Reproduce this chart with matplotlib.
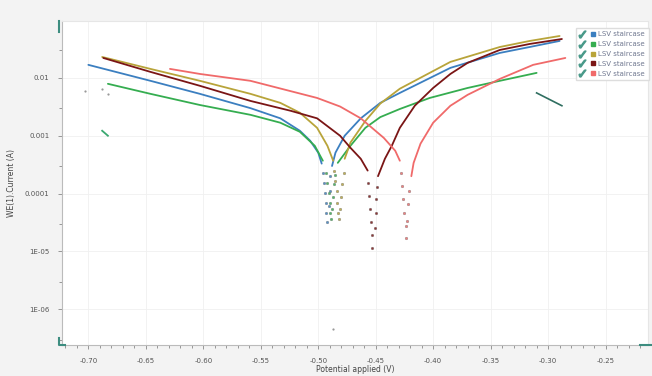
import matplotlib.pyplot as plt
from matplotlib.lines import Line2D
from matplotlib.legend_handler import HandlerTuple
from matplotlib.ticker import LogLocator, FixedLocator, MultipleLocator, NullFormatter

# LSV staircase runs: left branch, dots around Ecorr, right branch
blue_lx = [-0.700, -0.646, -0.603, -0.559, -0.533, -0.516, -0.507, -0.500, -0.497]
blue_ly = [0.0168, 0.0089, 0.0053, 0.0030, 0.0020, 0.00122, 0.00082, 0.00051, 0.00033]
blue_dx = [-0.496, -0.495, -0.494, -0.493, -0.493, -0.492, -0.491, -0.490, -0.490]
blue_dy = [0.00023, 0.000155, 0.000104, 7.0e-5, 4.7e-5, 3.2e-5, 6.2e-5, 0.000113, 0.00020]
blue_rx = [-0.488, -0.485, -0.477, -0.463, -0.446, -0.429, -0.385, -0.342, -0.316, -0.290]
blue_ry = [0.00030, 0.00051, 0.00100, 0.0020, 0.0037, 0.0055, 0.0149, 0.0270, 0.0342, 0.0435]

green_lx = [-0.683, -0.646, -0.603, -0.559, -0.533, -0.516, -0.503, -0.496]
green_ly = [0.0079, 0.0053, 0.0034, 0.0023, 0.00168, 0.00117, 0.00067, 0.00037]
green_dx = [-0.493, -0.492, -0.491, -0.490, -0.490, -0.489, -0.488, -0.487, -0.486, -0.485]
green_dy = [0.00023, 0.000155, 0.000104, 7.0e-5, 4.7e-5, 3.6e-5, 5.5e-5, 8.7e-5, 0.000145, 0.00021]
green_rx = [-0.483, -0.472, -0.459, -0.446, -0.429, -0.403, -0.370, -0.342, -0.310]
green_ry = [0.00034, 0.00067, 0.00137, 0.0021, 0.0029, 0.0045, 0.0067, 0.0089, 0.0122]

olive_lx = [-0.688, -0.646, -0.603, -0.559, -0.533, -0.516, -0.501, -0.492, -0.487]
olive_ly = [0.0230, 0.0143, 0.0089, 0.0053, 0.0037, 0.0025, 0.00137, 0.00067, 0.00037]
olive_dx = [-0.486, -0.485, -0.484, -0.484, -0.483, -0.482, -0.481, -0.480, -0.479, -0.478]
olive_dy = [0.00025, 0.000168, 0.000113, 7.0e-5, 4.7e-5, 3.7e-5, 5.5e-5, 8.7e-5, 0.000145, 0.00023]
olive_rx = [-0.477, -0.472, -0.459, -0.446, -0.429, -0.385, -0.342, -0.316, -0.290]
olive_ry = [0.00040, 0.00076, 0.0018, 0.0036, 0.0065, 0.0189, 0.0342, 0.0435, 0.0530]

dred_lx = [-0.687, -0.646, -0.603, -0.559, -0.524, -0.501, -0.481, -0.472, -0.463, -0.457]
dred_ly = [0.0221, 0.0127, 0.0073, 0.0040, 0.0027, 0.0020, 0.00100, 0.00062, 0.00040, 0.00025]
dred_dx = [-0.457, -0.456, -0.455, -0.454, -0.453, -0.453, -0.451, -0.450, -0.450, -0.449]
dred_dy = [0.000155, 9.2e-5, 5.5e-5, 3.2e-5, 1.9e-5, 1.17e-5, 2.5e-5, 4.7e-5, 8.2e-5, 0.000130]
dred_rx = [-0.448, -0.442, -0.436, -0.429, -0.416, -0.400, -0.385, -0.370, -0.342, -0.316, -0.288]
dred_ry = [0.00020, 0.00040, 0.00067, 0.00137, 0.0033, 0.0067, 0.0117, 0.0182, 0.0304, 0.0386, 0.0470]

salmon_lx = [-0.629, -0.603, -0.559, -0.501, -0.481, -0.463, -0.443, -0.433, -0.429]
salmon_ly = [0.0143, 0.0117, 0.0089, 0.0045, 0.0032, 0.0020, 0.00092, 0.00055, 0.00037]
salmon_dx = [-0.428, -0.427, -0.426, -0.425, -0.424, -0.424, -0.423, -0.422, -0.421]
salmon_dy = [0.00023, 0.000137, 8.2e-5, 4.7e-5, 2.8e-5, 1.74e-5, 3.4e-5, 6.5e-5, 0.000113]
salmon_rx = [-0.419, -0.417, -0.411, -0.400, -0.385, -0.370, -0.342, -0.313, -0.285]
salmon_ry = [0.00020, 0.00034, 0.00073, 0.00168, 0.0033, 0.0051, 0.0096, 0.0168, 0.0221]

# stray bits of data
stray_gx = [-0.688, -0.683]
stray_gy = [0.00122, 0.00100]
stray_tx = [-0.310, -0.288]
stray_ty = [0.0055, 0.0033]
grey_x = [-0.703, -0.688, -0.683, -0.487]
grey_y = [0.0060, 0.0065, 0.0053, 4.5e-7]

xticks = [-0.70, -0.65, -0.60, -0.55, -0.50, -0.45, -0.40, -0.35, -0.30, -0.25]
yticks = [1e-6, 1e-5, 1e-4, 1e-3, 1e-2]
ytick_labels = ["1E-06", "1E-05", "0.0001", "0.001", "0.01"]

series = [
    ("#3b7fc0", blue_lx, blue_ly, blue_dx, blue_dy, blue_rx, blue_ry),
    ("#35ad50", green_lx, green_ly, green_dx, green_dy, green_rx, green_ry),
    ("#b8a43a", olive_lx, olive_ly, olive_dx, olive_dy, olive_rx, olive_ry),
    ("#7a1515", dred_lx, dred_ly, dred_dx, dred_dy, dred_rx, dred_ry),
    ("#f06a6a", salmon_lx, salmon_ly, salmon_dx, salmon_dy, salmon_rx, salmon_ry),
]

fig = plt.figure(figsize=(6.52, 3.76), dpi=100, facecolor="#f3f3f3")
ax = fig.add_axes([0.095, 0.082, 0.899, 0.862])
ax.set_facecolor("white")

for c, lx, ly, dx, dy, rx, ry in series:
    ax.plot(lx, ly, color=c, lw=1.3, solid_capstyle="round")
    ax.plot(dx, dy, ls="none", marker="o", ms=1.9, color=c, alpha=0.85, mec="#777777", mew=0.3)
    ax.plot(rx, ry, color=c, lw=1.3, solid_capstyle="round")

ax.plot(stray_gx, stray_gy, color="#3aa870", lw=1.3)
ax.plot(stray_tx, stray_ty, color="#2f6e60", lw=1.2)
ax.plot(grey_x, grey_y, ls="none", marker="o", ms=1.6, color="#999999", mec="none")

ax.set_yscale("log")
ax.set_xlim(-0.723, -0.213)
ax.set_ylim(2.4e-7, 0.096)
ax.xaxis.set_major_locator(FixedLocator(xticks))
ax.set_xticklabels([f"{v:.2f}" for v in xticks])
ax.xaxis.set_minor_locator(MultipleLocator(0.01))
ax.yaxis.set_major_locator(FixedLocator(yticks))
ax.set_yticklabels(ytick_labels)
ax.yaxis.set_minor_locator(LogLocator(base=10, subs=[3.0]))
ax.yaxis.set_minor_formatter(NullFormatter())

ax.tick_params(which="both", colors="#888888", labelcolor="#555555", labelsize=5, width=0.6)
ax.tick_params(which="major", length=3, pad=6)
ax.tick_params(which="minor", length=2)
ax.grid(which="major", color="#f0f0f0", lw=0.6)
for s in ["left", "bottom"]:
    ax.spines[s].set_color("#bbbbbb")
for s in ["top", "right"]:
    ax.spines[s].set_color("#e6e6e6")

ax.set_xlabel("Potential applied (V)", fontsize=5.5, color="#444444", labelpad=1)
ax.set_ylabel("WE(1).Current (A)", fontsize=5.5, color="#444444", labelpad=6)

handles = []
for c, *_ in series:
    chk = Line2D([], [], ls="none", marker="$\\checkmark$", ms=5, color="#4a9a8a")
    sq = Line2D([], [], ls="none", marker="s", ms=3.5, color=c)
    handles.append((chk, sq))
fig.legend(handles, ["LSV staircase"] * 5, loc="upper right", bbox_to_anchor=(1.0, 0.935),
           handler_map={tuple: HandlerTuple(ndivide=None, pad=0.8)},
           fontsize=5, labelcolor="#707890", frameon=True, fancybox=False,
           edgecolor="#dddddd", framealpha=1, handlelength=2.2, handletextpad=0.5,
           labelspacing=0.55, borderpad=0.5)

# range handles of the viewer
fig.add_artist(Line2D([0.091, 0.091], [0.915, 0.945], color="#3d8d80", lw=1.5))
fig.add_artist(Line2D([0.091, 0.091, 0.100], [0.100, 0.082, 0.082], color="#3d8d80", lw=1.5))
fig.add_artist(Line2D([0.982, 1.0], [0.082, 0.082], color="#3d8d80", lw=1.5))

fig.savefig("out.png", dpi=100, facecolor=fig.get_facecolor())
